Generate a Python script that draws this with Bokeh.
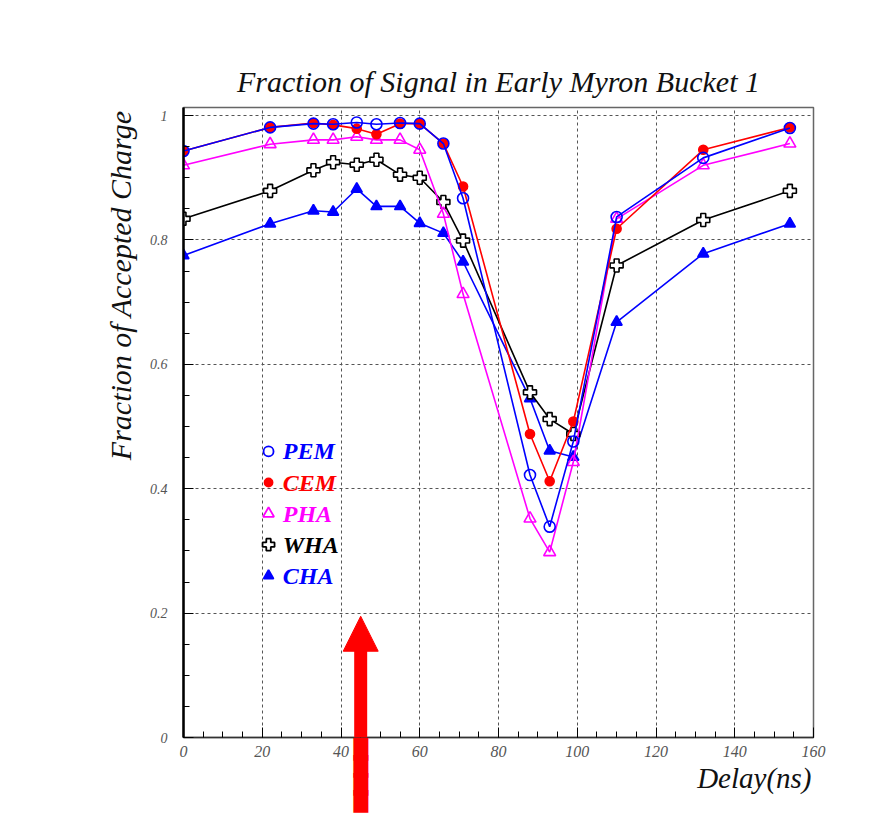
from bokeh.plotting import figure
from bokeh.models import Range1d, FixedTicker, Label, Arrow, NormalHead, ColumnDataSource, Title
from bokeh.core.properties import value
from bokeh.embed import file_html
from bokeh.resources import INLINE

# ---------------- data ----------------
delay = [0, 22, 33, 38, 44, 49, 55, 60, 66, 71, 88, 93, 99, 110, 132, 154]
pem = [0.943, 0.981, 0.987, 0.986, 0.989, 0.986, 0.988, 0.987, 0.955, 0.867, 0.422, 0.339, 0.476, 0.837, 0.932, 0.980]
cem = [0.943, 0.981, 0.988, 0.985, 0.979, 0.970, 0.987, 0.987, 0.955, 0.886, 0.488, 0.412, 0.508, 0.818, 0.945, 0.981]
pha = [0.920, 0.954, 0.961, 0.961, 0.966, 0.961, 0.961, 0.945, 0.842, 0.713, 0.352, 0.298, 0.443, 0.834, 0.920, 0.955]
wha = [0.834, 0.879, 0.912, 0.925, 0.921, 0.929, 0.905, 0.900, 0.861, 0.799, 0.555, 0.512, 0.488, 0.759, 0.832, 0.879]
cha = [0.775, 0.826, 0.847, 0.845, 0.882, 0.854, 0.854, 0.827, 0.811, 0.765, 0.545, 0.461, 0.451, 0.668, 0.778, 0.826]

series_names = ["PEM", "CEM", "PHA", "WHA", "CHA"]
x_ticks = [0, 20, 40, 60, 80, 100, 120, 140, 160]
y_ticks = [0, 0.2, 0.4, 0.6, 0.8, 1]
y_tick_labels = ["0", "0.2", "0.4", "0.6", "0.8", "1"]
arrow_delay = 45
arrow_tip = 0.195

title_text = "Fraction of Signal in Early Myron Bucket 1"
x_label = "Delay(ns)"
y_label = "Fraction of Accepted Charge"

# ---------------- styles ----------------
styles = {
    "PEM": dict(color="#0000ff", marker="circle", fill=None, size=11),
    "CEM": dict(color="#ff0000", marker="circle", fill="#ff0000", size=9),
    "PHA": dict(color="#ff00ff", marker="triangle", fill=None, size=12),
    "WHA": dict(color="#000000", marker="plus", fill="#ffffff", size=13),
    "CHA": dict(color="#0000ff", marker="triangle", fill="#0000ff", size=11),
}
values = {"PEM": pem, "CEM": cem, "PHA": pha, "WHA": wha, "CHA": cha}

SERIF = "Liberation Serif"

p = figure(width=893, height=815, output_backend="svg", toolbar_location=None,
           x_range=Range1d(0, 160), y_range=Range1d(0, 1.013),
           min_border_left=183, min_border_right=80, min_border_top=107,
           min_border_bottom=78)
p.background_fill_color = "white"
p.border_fill_color = "white"
p.outline_line_color = "#666666"
p.outline_line_width = 1.5

# title (above) and axis titles
p.title.text = title_text
p.title.align = "center"
p.title.text_font = SERIF
p.title.text_font_style = "italic"
p.title.text_font_size = "30px"
p.title.text_color = "#111111"
p.title.standoff = 20

p.add_layout(Title(text=x_label, align="right", text_font=SERIF, text_font_style="italic",
                   text_font_size="29px", text_color="#111111", standoff=0, offset=2), "below")
p.add_layout(Title(text=y_label, align="right", text_font=SERIF, text_font_style="italic",
                   text_font_size="30px", text_color="#111111", standoff=20, offset=3), "left")

# axes
p.xaxis.ticker = FixedTicker(ticks=x_ticks, minor_ticks=list(range(0, 161, 5)))
p.yaxis.ticker = FixedTicker(ticks=y_ticks, minor_ticks=[i * 0.05 for i in range(21)])
p.yaxis.major_label_overrides = {t: s for t, s in zip(y_ticks, y_tick_labels)}
for ax in (p.xaxis, p.yaxis):
    ax.major_tick_in = 10
    ax.major_tick_out = 0
    ax.minor_tick_in = 6
    ax.minor_tick_out = 0
    ax.major_tick_line_color = "black"
    ax.minor_tick_line_color = "black"
    ax.major_label_text_font = SERIF
    ax.major_label_text_font_style = "italic"
    ax.major_label_text_color = "#555555"
p.xaxis.major_label_text_font_size = "16px"
p.yaxis.major_label_text_font_size = "14px"
p.yaxis.axis_line_width = 2.5
p.yaxis.axis_line_color = "black"
p.xaxis.axis_line_width = 1.5
p.xaxis.axis_line_color = "#333333"
p.yaxis.major_label_standoff = 16
p.xaxis.major_label_standoff = 8

# grid
for g in (p.xgrid, p.ygrid):
    g.grid_line_color = "#555555"
    g.grid_line_dash = "3 3"
    g.grid_line_width = 1
p.xgrid.ticker = FixedTicker(ticks=x_ticks[1:-1])
p.ygrid.ticker = FixedTicker(ticks=y_ticks[1:])

# series (draw order so that PEM is on top)
for name in ["CHA", "WHA", "PHA", "CEM", "PEM"]:
    st = styles[name]
    src = ColumnDataSource(dict(x=delay, y=values[name]))
    p.line("x", "y", source=src, line_color=st["color"], line_width=1.6)
    p.scatter("x", "y", source=src, marker=st["marker"], size=st["size"],
              line_color=st["color"], line_width=1.6,
              fill_color=st["fill"] if st["fill"] else "white",
              fill_alpha=1.0 if st["fill"] else 0.0)

# legend (manual, coloured labels)
legend_marker_x = 21.6
legend_text_x = 25.2
legend_y0 = 0.46
legend_step = 0.05
for i, name in enumerate(series_names):
    st = styles[name]
    ly = legend_y0 - i * legend_step
    p.scatter([legend_marker_x], [ly], marker=st["marker"], size=st["size"] - 1,
              line_color=st["color"], line_width=1.8,
              fill_color=st["fill"] if st["fill"] else "white",
              fill_alpha=1.0 if st["fill"] else 0.0)
    p.text([legend_text_x], [ly], text=[name], text_color=st["color"],
           text_font=value(SERIF), text_font_style="bold italic",
           text_font_size="24px", text_baseline="middle", text_align="left")

# red arrow pointing at the chosen delay
head_len = 34 / 622.0
p.add_layout(Arrow(end=None, x_start=arrow_delay, y_start=-0.02,
                   x_end=arrow_delay, y_end=arrow_tip - head_len + 0.002,
                   line_color="#ff0000", line_width=13))
p.add_layout(Arrow(end=NormalHead(size=35, fill_color="#ff0000", line_color="#ff0000", line_width=1),
                   x_start=arrow_delay, y_start=arrow_tip - 0.01,
                   x_end=arrow_delay, y_end=arrow_tip,
                   line_color="#ff0000", line_alpha=0.0, line_width=1))
# part of the arrow shaft below the plot frame: stacked full-block pieces
shaft_step = 0.028
for k in range(4):
    p.add_layout(Label(x=arrow_delay, y=-0.018 - k * shaft_step, text="\u2588",
                       text_font="DejaVu Sans", text_font_size="19px",
                       text_align="center", text_baseline="middle",
                       text_color="#ff0000", level="overlay"), "right")

open("out.html", "w").write(file_html(p, INLINE))
